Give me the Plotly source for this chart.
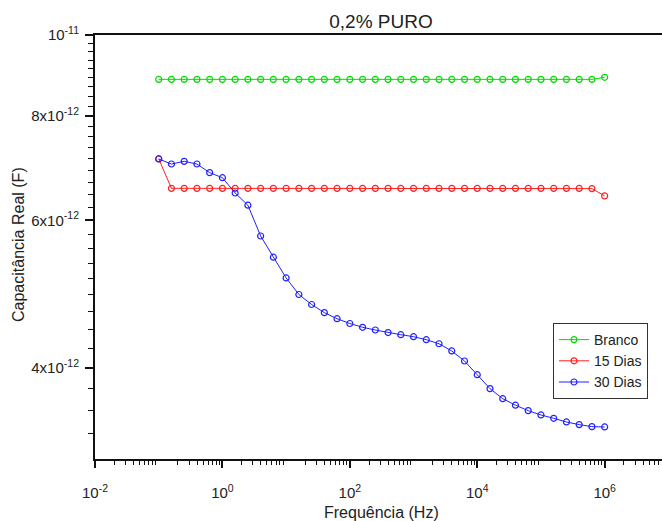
import numpy as np
import plotly.graph_objects as go

# ---- data ----
freq_exp = [-1 + 0.2 * i for i in range(36)]
freq = [10 ** e for e in freq_exp]

branco = [8.85e-12] * 35 + [8.90e-12]

dias15 = [7.11e-12] + [6.555e-12] * 33 + [6.55e-12, 6.42e-12]

dias30 = [7.107, 7.009, 7.061, 7.009, 6.844, 6.750, 6.471, 6.257, 5.748, 5.422,
          5.121, 4.893, 4.760, 4.654, 4.577, 4.517, 4.470, 4.437, 4.406, 4.380,
          4.356, 4.320, 4.272, 4.188, 4.074, 3.923, 3.775, 3.672, 3.607, 3.553,
          3.511, 3.479, 3.444, 3.419, 3.400, 3.397]
dias30 = [v * 1e-12 for v in dias30]

x_tickvals = [10.0 ** k for k in range(-2, 7, 2)]
x_ticktext = ["10<sup>%d</sup>" % k for k in range(-2, 7, 2)]
x_oddvals = [10.0 ** k for k in range(-1, 7, 2)]
x_minor = [m * 10.0 ** k for k in range(-2, 7) for m in range(2, 10)]

y_tickvals = [4e-12, 6e-12, 8e-12, 1e-11]
y_ticktext = ["4x10<sup>-12</sup>", "6x10<sup>-12</sup>", "8x10<sup>-12</sup>", "10<sup>-11</sup>"]
y_minor = []
for lo in [2, 4, 6, 8]:
    for j in range(1, 9):
        v = lo + 2.0 * j / 9.0
        if v > 3.2:
            y_minor.append(v * 1e-12)

FONT = "Arial, Liberation Sans, sans-serif"
TXT = "#222222"
XR = [-2, 6.90]

fig = go.Figure()
series = [("Branco", branco, "#00dd00"), ("15 Dias", dias15, "#ff2020"), ("30 Dias", dias30, "#2020ff")]
for name, ys, col in series:
    fig.add_trace(go.Scatter(
        x=freq, y=ys, name=name, mode="lines+markers",
        line=dict(color=col, width=1),
        marker=dict(symbol="circle-open", size=6, color=col, line=dict(width=1.2, color=col)),
    ))

fig.update_layout(
    width=662, height=521,
    margin=dict(l=95, r=0, t=35, b=62),
    paper_bgcolor="white", plot_bgcolor="white",
    font=dict(family=FONT, color=TXT, size=15),
    title=dict(text="0,2% PURO", x=0.5 + (381 - 331) / 662, xanchor="center",
               y=1 - 21.5 / 521, yanchor="middle",
               font=dict(size=19, family=FONT, color=TXT)),
    showlegend=True,
    legend=dict(x=(553 - 95) / 567, y=1 - (323 - 35) / 424, xanchor="left", yanchor="top",
                bgcolor="white", bordercolor="#333333", borderwidth=1,
                font=dict(size=14, family=FONT, color=TXT),
                tracegroupgap=0, itemwidth=30),
    xaxis2=dict(type="log", range=XR, overlaying="x", side="bottom", anchor="y",
                showgrid=False, zeroline=False, showline=False, showticklabels=False,
                ticks="outside", ticklen=7, tickwidth=1.5, tickcolor="#111111",
                tickmode="array", tickvals=x_oddvals),
)

fig.update_xaxes(
    type="log", range=XR,
    showgrid=False, zeroline=False,
    showline=True, linecolor="#111111", linewidth=2, mirror=True,
    ticks="outside", ticklen=7, tickwidth=1.5, tickcolor="#111111",
    tickmode="array", tickvals=x_tickvals, ticktext=x_ticktext,
    ticklabelstandoff=12,
    tickfont=dict(size=15, family=FONT, color=TXT),
    minor=dict(tickmode="array", tickvals=x_minor, ticks="outside", ticklen=4,
               tickwidth=1.2, tickcolor="#111111", showgrid=False),
    selector=dict(anchor="y") if False else None,
)
fig.layout.xaxis2.showline = False

fig.update_yaxes(
    type="log", range=[np.log10(3.11e-12), -11],
    showgrid=False, zeroline=False,
    showline=True, linecolor="#111111", linewidth=2, mirror=False,
    ticks="outside", ticklen=8, tickwidth=1.5, tickcolor="#111111",
    tickmode="array", tickvals=y_tickvals, ticktext=y_ticktext,
    ticklabelstandoff=3,
    tickfont=dict(size=15, family=FONT, color=TXT),
    minor=dict(tickmode="array", tickvals=y_minor, ticks="outside", ticklen=5,
               tickwidth=1.2, tickcolor="#111111", showgrid=False),
)

fig.add_annotation(text="Capacitância Real (F)", xref="paper", yref="paper",
                   x=-(95 - 19) / 567, y=1 - (245 - 35) / 424, textangle=-90,
                   showarrow=False, xanchor="center", yanchor="middle",
                   font=dict(size=16, family=FONT, color=TXT))
fig.add_annotation(text="Frequência (Hz)", xref="paper", yref="paper",
                   x=(381 - 95) / 567, y=-(512 - 459) / 424,
                   showarrow=False, xanchor="center", yanchor="middle",
                   font=dict(size=16, family=FONT, color=TXT))

fig.write_html("out.html")
